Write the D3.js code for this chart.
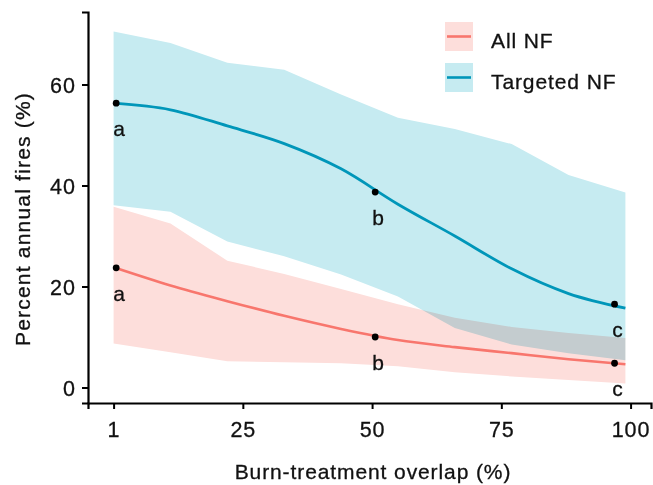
<!DOCTYPE html>
<html>
<head>
<meta charset="utf-8">
<script src="https://cdn.jsdelivr.net/npm/d3@7"></script>
<style>
  body { margin: 0; background: #fff; }
  text { font-family: "Liberation Sans", Arial, sans-serif; stroke: #111; stroke-width: 0.3px; }
</style>
</head>
<body>
<div id="img"></div>
<script>
const xGrid = [0, 11, 22, 33, 44, 55, 66, 77, 88, 99];

const allMean = [23.8, 20.2, 17.1, 14.2, 11.6, 9.4, 8.0, 6.8, 5.6, 4.6];
const allLo = [8.7, 7.0, 5.2, 5.0, 4.8, 4.2, 3.0, 2.2, 1.5, 0.8];
const allHi = [35.8, 32.5, 25.1, 22.5, 19.5, 16.5, 13.8, 12.0, 10.8, 9.8];

const tgtMean = [56.3, 55.0, 51.8, 48.3, 43.3, 36.3, 30.0, 23.5, 18.6, 15.7];
const tgtLo = [36.1, 34.8, 28.9, 26.0, 22.4, 18.0, 11.8, 8.5, 6.8, 5.4];
const tgtHi = [70.5, 68.2, 64.3, 62.9, 58.0, 53.4, 51.2, 48.2, 42.1, 38.6];

const pointX = [0.5, 50.6, 96.9];
const allPoints = [23.7, 10.0, 4.8];
const tgtPoints = [56.3, 38.7, 16.5];
const letters = ["a", "b", "c"];

const xTicks = [0, 25, 50, 75, 100];
const xTickLabels = ["1", "25", "50", "75", "100"];
const yTicks = [0, 20, 40, 60];

const seriesNames = ["All NF", "Targeted NF"];

const W = 653, H = 485;
const mar = {top: 12, right: 2, bottom: 82, left: 88};

var svg = d3.select("#img").append("svg")
    .attr("width", W)
    .attr("height", H);

var x = d3.scaleLinear().domain([-4.95, 103.95]).range([mar.left, W - mar.right]);
var y = d3.scaleLinear().domain([-3.07, 74.36]).range([H - mar.bottom, mar.top]);

// ribbons
function band(lo, hi) {
    return d3.area()
        .x((d, i) => x(xGrid[i]))
        .y0((d, i) => y(lo[i]))
        .y1((d, i) => y(hi[i]))(xGrid);
}
svg.append("path").attr("d", band(tgtLo, tgtHi)).attr("fill", "#c6ebf1");
svg.append("path").attr("d", band(allLo, allHi)).attr("fill", "#fddedb")
    .style("mix-blend-mode", "multiply");

// lines
var line = d3.line().curve(d3.curveMonotoneX);
function pts(vals) { return xGrid.map((v, i) => [x(v), y(vals[i])]); }

svg.append("path").attr("d", line(pts(allMean)))
    .attr("fill", "none").attr("stroke", "#f8766d").attr("stroke-width", 2.6);
svg.append("path").attr("d", line(pts(tgtMean)))
    .attr("fill", "none").attr("stroke", "#0096b9").attr("stroke-width", 2.8);

// points + letters
[allPoints, tgtPoints].forEach(function(vals) {
    svg.selectAll(null).data(vals).enter().append("circle")
        .attr("cx", (d, i) => x(pointX[i]))
        .attr("cy", d => y(d))
        .attr("r", 3.4)
        .attr("fill", "#000");
    svg.selectAll(null).data(vals).enter().append("text")
        .attr("x", (d, i) => x(pointX[i]) + 3)
        .attr("y", d => y(d) + 33)
        .attr("text-anchor", "middle")
        .attr("font-size", 21)
        .attr("fill", "#111")
        .text((d, i) => letters[i]);
});

// axes
var xAxis = svg.append("g")
    .attr("transform", "translate(0," + (H - mar.bottom) + ")")
    .call(d3.axisBottom(x).tickValues(xTicks).tickFormat((d, i) => xTickLabels[i]).tickSize(6).tickPadding(6));
var yAxis = svg.append("g")
    .attr("transform", "translate(" + mar.left + ",0)")
    .call(d3.axisLeft(y).tickValues(yTicks).tickSize(6).tickPadding(6));

[xAxis, yAxis].forEach(function(g) {
    g.select(".domain").attr("stroke", "#000").attr("stroke-width", 2.2);
    g.selectAll(".tick line").attr("stroke", "#000").attr("stroke-width", 2);
    g.selectAll(".tick text").attr("font-size", 21.5).attr("fill", "#111")
        .attr("font-family", "Liberation Sans, Arial, sans-serif")
        .attr("letter-spacing", 1);
});
yAxis.selectAll(".tick text").attr("dy", "0.38em");
xAxis.selectAll(".tick text").attr("dy", "1.02em");

// axis titles
svg.append("text")
    .attr("x", 373).attr("y", 479)
    .attr("text-anchor", "middle")
    .attr("font-size", 21).attr("letter-spacing", 0.9)
    .attr("fill", "#111")
    .text("Burn-treatment overlap (%)");
svg.append("text")
    .attr("transform", "translate(30,219) rotate(-90)")
    .attr("text-anchor", "middle")
    .attr("font-size", 21).attr("letter-spacing", 1.2)
    .attr("fill", "#111")
    .text("Percent annual fires (%)");

// legend
var fills = ["#fddedb", "#c6ebf1"];
var strokes = ["#f8766d", "#0096b9"];
var leg = svg.selectAll(".leg").data(seriesNames).enter().append("g")
    .attr("class", "leg")
    .attr("transform", (d, i) => "translate(445," + (22 + i * 41) + ")");
leg.append("rect").attr("width", 28).attr("height", 29).attr("fill", (d, i) => fills[i]);
leg.append("line").attr("x1", 2).attr("x2", 26).attr("y1", 14.5).attr("y2", 14.5)
    .attr("stroke", (d, i) => strokes[i]).attr("stroke-width", 2.6);
leg.append("text").attr("x", 46).attr("y", 26)
    .attr("font-size", 21).attr("letter-spacing", 0.9)
    .attr("fill", "#111")
    .text(d => d);
</script>
</body>
</html>
